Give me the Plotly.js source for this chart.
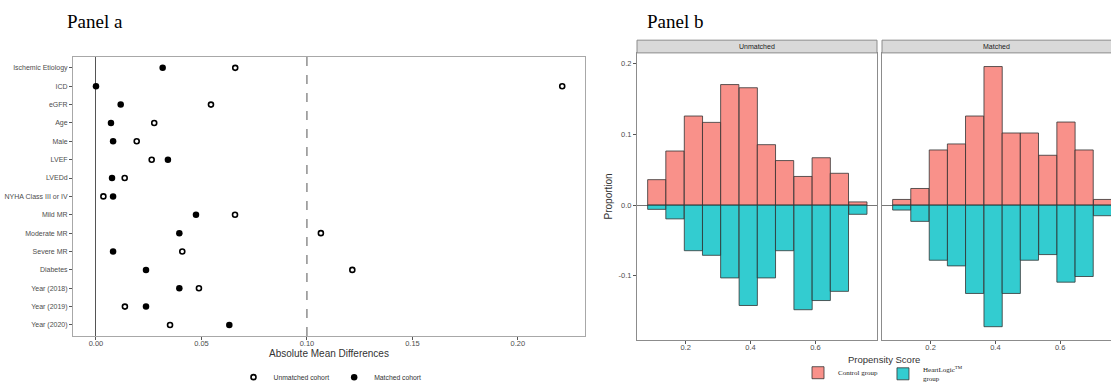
<!DOCTYPE html>
<html>
<head>
<meta charset="utf-8">
<script src="https://cdn.plot.ly/plotly-3.0.1.min.js"></script>
<style>html,body{margin:0;padding:0;background:#fff;}</style>
</head>
<body>
<div id="chart"></div>
<script>
// ---------- Panel a data ----------
const variables = ['Ischemic Etiology','ICD','eGFR','Age','Male','LVEF','LVEDd','NYHA Class III or IV','Mild MR','Moderate MR','Severe MR','Diabetes','Year (2018)','Year (2019)','Year (2020)'];
const unmatchedAMD = [0.066,0.221,0.0545,0.0276,0.0193,0.0264,0.0136,0.0035,0.0659,0.1066,0.0409,0.1215,0.0488,0.0137,0.0351];
const matchedAMD   = [0.0316,0.0,0.0117,0.0071,0.0081,0.0341,0.0076,0.0081,0.0474,0.0395,0.0081,0.0237,0.0395,0.0237,0.0632];
const amdTickVals = [0,0.05,0.1,0.15,0.2];
const amdTickText = ['0.00','0.05','0.10','0.15','0.20'];
const threshold = 0.1;

// ---------- Panel b data ----------
const binCenters = [0.111,0.167,0.224,0.280,0.336,0.393,0.449,0.505,0.562,0.618,0.674,0.731];
const unmatchedControl    = [0.036,0.0765,0.126,0.117,0.1705,0.166,0.0855,0.063,0.0405,0.067,0.045,0.0045];
const unmatchedHeartLogic = [-0.006,-0.0195,-0.0645,-0.071,-0.103,-0.142,-0.103,-0.0645,-0.148,-0.135,-0.122,-0.013];
const matchedControl      = [0.008,0.0235,0.078,0.0865,0.126,0.196,0.102,0.102,0.0705,0.1175,0.078,0.008];
const matchedHeartLogic   = [-0.007,-0.023,-0.078,-0.086,-0.125,-0.172,-0.125,-0.078,-0.070,-0.109,-0.101,-0.015];
const psTickVals = [0.2,0.4,0.6];
const propTickVals = [-0.1,0,0.1,0.2];
const propTickText = ['-0.1','0.0','0.1','0.2'];
const facets = ['Unmatched','Matched'];

const binWidth = 0.0563;
const red = 'rgba(248,118,109,0.8)';
const teal = 'rgba(0,191,196,0.8)';
const edge = {color:'#333333', width:0.8};

const traces = [
  {type:'scatter', mode:'markers', x:unmatchedAMD, y:variables, xaxis:'x', yaxis:'y',
   name:'Unmatched cohort', legend:'legend',
   marker:{symbol:'circle-open', size:5, color:'#000', line:{width:1.6, color:'#000'}}},
  {type:'scatter', mode:'markers', x:matchedAMD, y:variables, xaxis:'x', yaxis:'y',
   name:'Matched cohort', legend:'legend',
   marker:{symbol:'circle', size:6.5, color:'#000'}},
  {type:'bar', x:binCenters, y:unmatchedControl, width:binWidth, xaxis:'x2', yaxis:'y2',
   name:'Control group', legend:'legend2', legendgroup:'c',
   marker:{color:red, line:edge}},
  {type:'bar', x:binCenters, y:unmatchedHeartLogic, width:binWidth, xaxis:'x2', yaxis:'y2',
   name:'HeartLogic<sup>TM</sup><br>group', legend:'legend2', legendgroup:'h',
   marker:{color:teal, line:edge}},
  {type:'bar', x:binCenters, y:matchedControl, width:binWidth, xaxis:'x3', yaxis:'y3',
   name:'Control group', legend:'legend2', legendgroup:'c', showlegend:false,
   marker:{color:red, line:edge}},
  {type:'bar', x:binCenters, y:matchedHeartLogic, width:binWidth, xaxis:'x3', yaxis:'y3',
   name:'HeartLogic', legend:'legend2', legendgroup:'h', showlegend:false,
   marker:{color:teal, line:edge}}
];

const tickFont = {family:'Liberation Sans, Arial, sans-serif', size:7.5, color:'#4D4D4D'};
const xDomB1 = [637/1111, 877/1111];
const xDomB2 = [882/1111, 1];
const yDomB = [1-347/392, 1-54/392];
const stripY = [1-54/392, 1-41/392];

const layout = {
  width:1111, height:392,
  margin:{l:0,r:0,t:0,b:0},
  paper_bgcolor:'#fff', plot_bgcolor:'#fff',
  font:{family:'Liberation Sans, Arial, sans-serif', color:'#4D4D4D'},
  barmode:'relative',
  bargap:0,
  showlegend:true,
  xaxis:{domain:[73/1111, 585/1111], anchor:'y', range:[-0.0109,0.2318],
    tickvals:amdTickVals, ticktext:amdTickText, ticks:'outside', ticklen:3, tickcolor:'#555',
    ticklabelstandoff:-3,
    tickfont:tickFont, showline:true, mirror:true, linecolor:'#A8A8A8', linewidth:1,
    showgrid:false, zeroline:true, zerolinecolor:'#555', zerolinewidth:1,
    title:{text:'Absolute Mean Differences', font:{size:10, color:'#333'}, standoff:2}, automargin:false},
  yaxis:{domain:[1-343/392, 1-58/392], anchor:'x', type:'category', categoryarray:variables,
    range:[14.6,-0.6], ticks:'outside', ticklen:3, tickcolor:'#555', tickfont:{...tickFont, size:7},
    showline:true, mirror:true, linecolor:'#A8A8A8', linewidth:1, showgrid:false, zeroline:false, automargin:false},
  xaxis2:{domain:xDomB1, anchor:'y2', range:[0.05,0.79], tickvals:psTickVals, ticktext:psTickVals.map(v=>v.toFixed(1)),
    ticks:'outside', ticklen:3, tickcolor:'#555', tickfont:tickFont, ticklabelstandoff:-3,
    showline:true, mirror:true, linecolor:'#8C8C8C', linewidth:1, showgrid:false, zeroline:false, automargin:false},
  yaxis2:{domain:yDomB, anchor:'x2', range:[-0.1907,0.2153], tickvals:propTickVals, ticktext:propTickText,
    ticks:'outside', ticklen:3, tickcolor:'#555', tickfont:tickFont,
    showline:true, mirror:true, linecolor:'#8C8C8C', linewidth:1, showgrid:false,
    zeroline:true, zerolinecolor:'#777', zerolinewidth:1,
    title:{text:'Proportion', font:{size:10, color:'#333'}, standoff:4}, automargin:false},
  xaxis3:{domain:xDomB2, anchor:'y3', range:[0.05,0.757], tickvals:psTickVals, ticktext:psTickVals.map(v=>v.toFixed(1)),
    ticks:'outside', ticklen:3, tickcolor:'#555', tickfont:tickFont, ticklabelstandoff:-3,
    showline:true, mirror:true, linecolor:'#8C8C8C', linewidth:1, showgrid:false, zeroline:false, automargin:false},
  yaxis3:{domain:yDomB, anchor:'x3', matches:'y2', range:[-0.1907,0.2153], showticklabels:false, ticks:'',
    showline:true, mirror:true, linecolor:'#8C8C8C', linewidth:1, showgrid:false,
    zeroline:true, zerolinecolor:'#777', zerolinewidth:1, automargin:false},
  legend:{orientation:'h', x:330/1111, y:1-385/392, xanchor:'center', yanchor:'middle',
    font:{size:6.8, color:'#333'}, itemwidth:30, bgcolor:'rgba(0,0,0,0)', tracegroupgap:0},
  legend2:{orientation:'h', x:883/1111, y:1-382/392, xanchor:'center', yanchor:'middle',
    font:{family:'Liberation Serif, Times New Roman, serif', size:7, color:'#222'}, itemwidth:30,
    bgcolor:'rgba(0,0,0,0)'},
  shapes:[
    {type:'line', xref:'x', yref:'y domain', x0:threshold, x1:threshold, y0:0, y1:1,
     line:{color:'#555', width:1, dash:'dash'}},
    {type:'rect', xref:'paper', yref:'paper', x0:xDomB1[0], x1:xDomB1[1], y0:stripY[0], y1:stripY[1],
     fillcolor:'#D9D9D9', line:{color:'#8C8C8C', width:1}},
    {type:'rect', xref:'paper', yref:'paper', x0:xDomB2[0], x1:1.01, y0:stripY[0], y1:stripY[1],
     fillcolor:'#D9D9D9', line:{color:'#8C8C8C', width:1}}
  ],
  annotations:[
    {text:'Panel a', xref:'paper', yref:'paper', x:65/1111, y:1-22/392, xanchor:'left', yanchor:'middle',
     showarrow:false, font:{family:'Liberation Serif, Times New Roman, serif', size:19, color:'#000'}},
    {text:'Panel b', xref:'paper', yref:'paper', x:645/1111, y:1-22/392, xanchor:'left', yanchor:'middle',
     showarrow:false, font:{family:'Liberation Serif, Times New Roman, serif', size:19, color:'#000'}},
    {text:facets[0], xref:'paper', yref:'paper', x:(xDomB1[0]+xDomB1[1])/2, y:(stripY[0]+stripY[1])/2,
     xanchor:'center', yanchor:'middle', showarrow:false, font:{size:7, color:'#1A1A1A'}},
    {text:facets[1], xref:'paper', yref:'paper', x:(xDomB2[0]+xDomB2[0]+229/1111*1.0)/2, y:(stripY[0]+stripY[1])/2,
     xanchor:'center', yanchor:'middle', showarrow:false, font:{size:7, color:'#1A1A1A'}},
    {text:'Propensity Score', xref:'paper', yref:'paper', x:884/1111, y:1-367/392,
     xanchor:'center', yanchor:'middle', showarrow:false, font:{size:9.5, color:'#333'}}
  ]
};

Plotly.newPlot('chart', traces, layout, {staticPlot:true, displayModeBar:false});
</script>
</body>
</html>
